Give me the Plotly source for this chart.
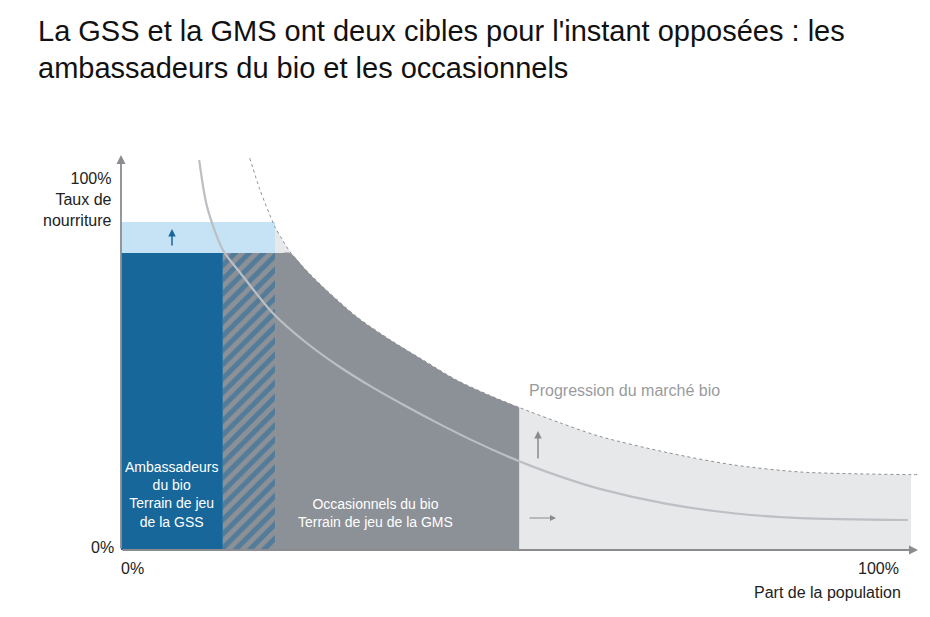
import plotly.graph_objects as go
import numpy as np

# ---------------- data (percent units) ----------------
# x boundaries of the population segments (part de la population, %)
seg_edges = [0.0, 12.9, 19.5, 50.4, 100.0]
# consumption rate levels (taux de nourriture, %)
ambassador_level = 79.2
ambassador_potential = 87.5

# frontier of the market potential (dashed curve)
potential_x = [16.3, 17.6, 19.1, 19.5, 20.3, 21.4, 23.4, 25.6, 29.9, 34.1, 38.2,
               42.5, 46.7, 50.4, 55.6, 60.6, 69.1, 77.5, 86.0, 93.5, 100.0, 100.9]
potential_y = [104.5, 96.0, 88.0, 86.1, 83.2, 79.5, 74.7, 70.1, 62.1, 56.0, 50.7,
               45.3, 41.2, 38.0, 33.9, 30.3, 26.0, 22.7, 20.8, 20.3, 20.1, 20.1]

# current market curve (solid)
current_x = [9.9, 10.9, 12.9, 15.1, 19.2, 23.5, 27.7, 31.9, 36.2, 40.4, 44.6,
             48.9, 51.8, 56.0, 60.6, 69.1, 77.5, 86.0, 99.6]
current_y = [104.0, 91.5, 80.0, 73.9, 63.2, 55.2, 48.8, 43.3, 38.2, 33.5, 29.1,
             25.0, 22.5, 19.3, 16.3, 12.3, 9.8, 8.5, 8.0]

title_lines = ["La GSS et la GMS ont deux cibles pour l'instant opposées : les",
               "ambassadeurs du bio et les occasionnels"]
y_label_top = "100%<br>Taux de<br>nourriture"
y_label_zero = "0%"
x_label_zero = "0%"
x_label_full = "100%"
x_title = "Part de la population"
label_ambassadeurs = "Ambassadeurs<br>du bio<br>Terrain de jeu<br>de la GSS"
label_occasionnels = "Occasionnels du bio<br>Terrain de jeu de la GMS"
label_progression = "Progression du marché bio"

# ---------------- styling ----------------
W, H = 930, 617
L, R, T, B = 121, 12, 155, 67
X0_PX, X100_PX = 121, 911
Y0_PX, Y100_PX = 550, 175
px_per_x = (X100_PX - X0_PX) / 100.0
px_per_y = (Y0_PX - Y100_PX) / 100.0
X_MAX = (W - R - L) / px_per_x
Y_MAX = (H - B - T) / px_per_y


def px2x(px):
    return (px - X0_PX) / px_per_x


def py2y(py):
    return (Y0_PX - py) / px_per_y


def pxp(px):
    return (px - L) / (W - L - R)


def pyp(py):
    return (H - B - py) / (H - B - T)


DARK_BLUE = "#17679b"
LIGHT_BLUE = "#c6e3f6"
DARK_GRAY = "#8c9097"
LIGHT_GRAY = "#e7e8ea"
AXIS_GRAY = "#8a8c90"
FONT = "Liberation Sans, Arial, sans-serif"

fig = go.Figure()

px_arr = np.array(potential_x)
py_arr = np.array(potential_y)

# light gray: whole potential area beyond the ambassadors
m = (px_arr >= seg_edges[2]) & (px_arr <= seg_edges[4])
fig.add_trace(go.Scatter(x=list(px_arr[m]), y=list(py_arr[m]), fill="tozeroy",
                         fillcolor=LIGHT_GRAY, mode="lines",
                         line=dict(width=0, shape="spline", smoothing=0.8),
                         hoverinfo="skip"))

# dark gray: occasional consumers (capped at ambassador level)
m2 = (px_arr >= seg_edges[2]) & (px_arr <= seg_edges[3])
fig.add_trace(go.Scatter(x=list(px_arr[m2]),
                         y=list(np.minimum(py_arr[m2], ambassador_level)),
                         fill="tozeroy", fillcolor=DARK_GRAY, mode="lines",
                         line=dict(width=0, shape="spline", smoothing=0.8),
                         hoverinfo="skip"))

# light blue: ambassadors potential
fig.add_trace(go.Scatter(
    x=[seg_edges[0], seg_edges[2], seg_edges[2], seg_edges[0]],
    y=[ambassador_level, ambassador_level, ambassador_potential, ambassador_potential],
    fill="toself", fillcolor=LIGHT_BLUE, mode="lines", line=dict(width=0),
    hoverinfo="skip"))

# dark blue: ambassadors
fig.add_trace(go.Scatter(
    x=[seg_edges[0], seg_edges[1], seg_edges[1], seg_edges[0]],
    y=[0, 0, ambassador_level, ambassador_level],
    fill="toself", fillcolor=DARK_BLUE, mode="lines", line=dict(width=0),
    hoverinfo="skip"))

# hatched transition zone
fig.add_trace(go.Scatter(
    x=[seg_edges[1], seg_edges[2], seg_edges[2], seg_edges[1]],
    y=[0, 0, ambassador_level, ambassador_level],
    fill="toself", fillcolor=DARK_GRAY,
    fillpattern=dict(shape="/", fgcolor=DARK_BLUE, bgcolor=DARK_GRAY,
                     size=10, solidity=0.5),
    mode="lines", line=dict(width=0), hoverinfo="skip"))

# current market curve
fig.add_trace(go.Scatter(x=current_x, y=current_y, mode="lines",
                         line=dict(color="#bcbfc3", width=2.2, shape="spline",
                                   smoothing=0.8),
                         hoverinfo="skip"))

# potential frontier
fig.add_trace(go.Scatter(x=potential_x, y=potential_y, mode="lines",
                         line=dict(color="#8d8f93", width=1, dash="3px,3px",
                                   shape="spline", smoothing=0.8),
                         hoverinfo="skip"))

annotations = []

# axes arrows
annotations.append(dict(x=X_MAX, y=0, ax=0, ay=0, xref="x", yref="y",
                        axref="x", ayref="y", showarrow=True, arrowhead=2,
                        arrowsize=1, arrowwidth=1.8, arrowcolor=AXIS_GRAY,
                        text="", standoff=0))
annotations.append(dict(x=0, y=Y_MAX, ax=0, ay=0, xref="x", yref="y",
                        axref="x", ayref="y", showarrow=True, arrowhead=2,
                        arrowsize=1, arrowwidth=1.8, arrowcolor=AXIS_GRAY,
                        text="", standoff=0))

# small arrows
annotations.append(dict(x=px2x(172), y=py2y(229), ax=px2x(172), ay=py2y(247),
                        xref="x", yref="y", axref="x", ayref="y",
                        showarrow=True, arrowhead=2, arrowsize=1,
                        arrowwidth=1.5, arrowcolor=DARK_BLUE, text=""))
annotations.append(dict(x=px2x(538), y=py2y(431), ax=px2x(538), ay=py2y(460),
                        xref="x", yref="y", axref="x", ayref="y",
                        showarrow=True, arrowhead=2, arrowsize=1,
                        arrowwidth=1.5, arrowcolor="#8a8a8a", text=""))
annotations.append(dict(x=px2x(556), y=py2y(518), ax=px2x(528), ay=py2y(518),
                        xref="x", yref="y", axref="x", ayref="y",
                        showarrow=True, arrowhead=2, arrowsize=1,
                        arrowwidth=1.2, arrowcolor="#8a8a8a", text=""))


def text_ann(px, py, text, size, color, xanchor="left", align="left"):
    return dict(x=pxp(px), y=pyp(py), xref="paper", yref="paper",
                xanchor=xanchor, yanchor="middle", align=align,
                showarrow=False, text=text,
                font=dict(family=FONT, size=size, color=color))


# title
annotations.append(text_ann(36, 30.5, title_lines[0], 29, "#111111"))
annotations.append(text_ann(36, 68, title_lines[1], 29, "#111111"))

# axis labels
annotations.append(text_ann(114, 199, y_label_top, 16, "#222222",
                            xanchor="right", align="right"))
annotations.append(text_ann(116, 547, y_label_zero, 16, "#222222",
                            xanchor="right"))
annotations.append(text_ann(132, 568, x_label_zero, 16, "#222222",
                            xanchor="center"))
annotations.append(text_ann(901, 568, x_label_full, 16, "#222222",
                            xanchor="right"))
annotations.append(text_ann(903, 592, x_title, 16, "#222222",
                            xanchor="right"))

# region labels
annotations.append(text_ann(X0_PX + (seg_edges[0] + seg_edges[1]) / 2 * px_per_x,
                            494, label_ambassadeurs, 14, "white",
                            xanchor="center", align="center"))
annotations.append(text_ann(375, 513, label_occasionnels, 14, "white",
                            xanchor="center", align="center"))
annotations.append(text_ann(527, 390, label_progression, 16, "#9a9b9e"))

fig.update_layout(
    width=W, height=H,
    margin=dict(l=L, r=R, t=T, b=B, pad=0),
    paper_bgcolor="white", plot_bgcolor="white",
    showlegend=False,
    annotations=annotations,
    xaxis=dict(range=[0, X_MAX], visible=False, fixedrange=True),
    yaxis=dict(range=[0, Y_MAX], visible=False, fixedrange=True),
)

fig.write_html("out.html")
